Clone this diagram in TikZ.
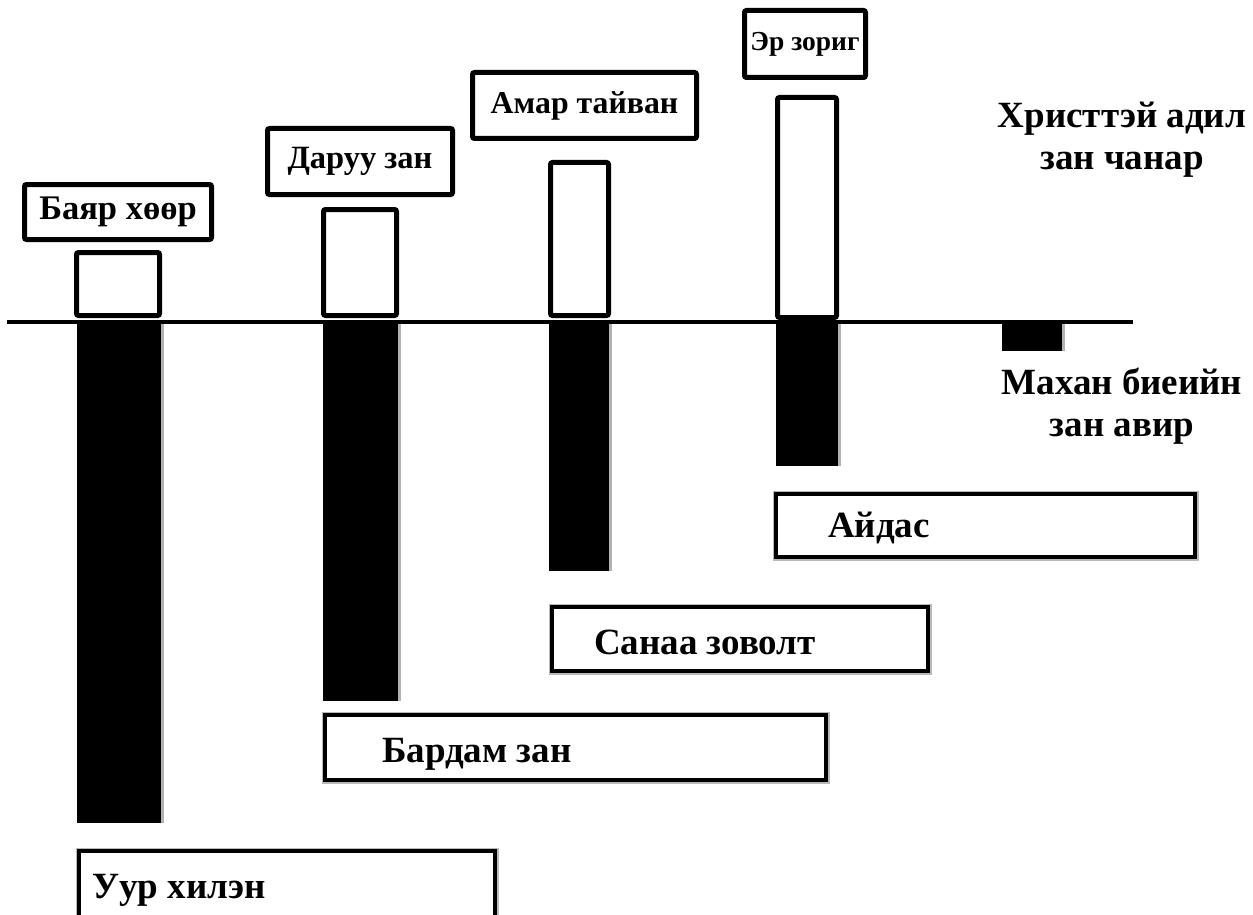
\documentclass[tikz,border=0pt]{standalone}
\usepackage{fontspec}
\setmainfont{Liberation Serif}
\usetikzlibrary{shadows}
\newcommand{\toplblfont}{\fontsize{32}{36}\selectfont\bfseries}
\newcommand{\botlblfont}{\fontsize{37}{44}\selectfont\bfseries}
\newcommand{\sidelblfont}{\fontsize{37}{42}\selectfont\bfseries}
\tikzset{
  lblbox/.style={draw, line width=5pt, rounded corners=2pt, fill=white, inner sep=2pt, font=\toplblfont,
    drop shadow={shadow xshift=1.5pt, shadow yshift=-1.5pt, fill=black, opacity=0.15}},
  whitebar/.style={draw, line width=5pt, rounded corners=2pt, fill=white, inner sep=0pt},
  blackbar/.style={fill=black, inner sep=0pt,
    drop shadow={shadow xshift=3pt, shadow yshift=0pt, fill=gray!60, opacity=1}},
  botbox/.style={draw, line width=3.5pt, fill=white, inner sep=0pt,
    preaction={draw=gray!55, line width=7pt}},
  bottext/.style={anchor=base west, inner sep=0pt, font=\botlblfont},
  sidetext/.style={align=center, inner sep=0pt, font=\sidelblfont},
  axisline/.style={line width=4pt}
}
\begin{document}
\begin{tikzpicture}[x=1pt, y=-1pt]
\useasboundingbox (0,0) rectangle (1253,915);
\clip (0,0) rectangle (1253,915);

% black bars (below the line)
\node[blackbar, minimum width=84pt, minimum height=502pt] (b1) at (119,572) {};
\node[blackbar, minimum width=75pt, minimum height=380pt] (b2) at (360.5,511) {};
\node[blackbar, minimum width=60pt, minimum height=250pt] (b3) at (579,446) {};
\node[blackbar, minimum width=62pt, minimum height=145pt] (b4) at (807,393.5) {};
\node[blackbar, minimum width=60pt, minimum height=30pt] (b5) at (1032,336) {};

% horizontal line
\coordinate (lineL) at (7,322);
\coordinate (lineR) at (1133,322);
\draw[axisline] (lineL) -- (lineR);

% white bars (above the line)
\node[whitebar, minimum width=83pt, minimum height=63pt] (w1) at (118,284) {};
\node[whitebar, minimum width=73pt, minimum height=106pt] (w2) at (360,262.5) {};
\node[whitebar, minimum width=58pt, minimum height=153pt] (w3) at (579.5,239) {};
\node[whitebar, minimum width=59pt, minimum height=220pt] (w4) at (807,207.5) {};

% top labels
\node[lblbox, minimum width=187pt, minimum height=55pt, font=\fontsize{34.5}{40}\selectfont\bfseries] (t1) at (118,212) {Баяр хөөр};
\node[lblbox, minimum width=185pt, minimum height=66pt, font=\fontsize{32.5}{38}\selectfont\bfseries] (t2) at (360,161.5) {Даруу зан};
\node[lblbox, minimum width=224pt, minimum height=66pt, font=\fontsize{31.8}{38}\selectfont\bfseries] (t3) at (584.5,105.5) {Амар тайван};
\node[lblbox, minimum width=121pt, minimum height=67pt, font=\fontsize{27.5}{32}\selectfont\bfseries] (t4) at (805,44) {Эр зориг};

% bottom boxes
\node[botbox, minimum width=416pt, minimum height=72pt] (u1) at (287,887) {};
\node[botbox, minimum width=501pt, minimum height=65pt] (u2) at (575.5,747.5) {};
\node[botbox, minimum width=376pt, minimum height=64pt] (u3) at (740,639) {};
\node[botbox, minimum width=419pt, minimum height=63pt] (u4) at (985.5,525.5) {};

\node[bottext] (u1t) at (92,898) {Уур хилэн};
\node[bottext] (u2t) at (382,762) {Бардам зан};
\node[bottext] (u3t) at (594,654) {Санаа зоволт};
\node[bottext] (u4t) at (828,537) {Айдас};

% side texts
\node[sidetext] (s1) at (1122,140) {Христтэй адил\\зан чанар};
\node[sidetext] (s2) at (1122,406) {Махан биеийн\\зан авир};
\end{tikzpicture}
\end{document}
